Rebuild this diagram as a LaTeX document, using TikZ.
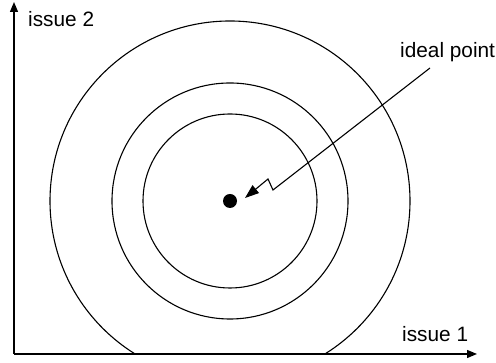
\documentclass[tikz,border=0pt]{standalone}
\usepackage{fontspec}
\setmainfont{Liberation Sans}
\usetikzlibrary{arrows.meta}
\begin{document}
\begin{tikzpicture}[x=1pt,y=1pt,
  axis/.style={line width=1.3pt,-{Triangle[length=10pt,width=8pt]}},
  ring/.style={line width=1.1pt},
  lbl/.style={font=\fontsize{20.8}{24}\selectfont,inner sep=0pt,anchor=base west},
  pointer/.style={line width=1.1pt,-{Triangle[length=14pt,width=10pt]}}]
\useasboundingbox (0,0) rectangle (496,363);
\coordinate (O) at (14,9);
\coordinate (ytip) at (14,361);
\coordinate (xtip) at (477,9);
\coordinate (c) at (230,162);
\draw[axis] (O) -- (ytip);
\draw[axis] (O) -- (xtip);
\draw[ring] (c) circle[radius=87];
\draw[ring] (c) circle[radius=118];
\begin{scope}
\clip (0,9) rectangle (496,363);
\draw[ring] (c) circle[radius=180];
\end{scope}
\node[circle,fill=black,inner sep=0pt,minimum size=14pt] (dot) at (c) {};
\node[lbl] (l2) at (28,336) {issue 2};
\node[lbl] (l1) at (402,21) {issue 1};
\node[lbl] (lip) at (400,305) {ideal point};
\coordinate (s) at (430,295);
\coordinate (z1) at (273,173);
\coordinate (z2) at (268,184);
\coordinate (tip) at (245,165);
\draw[pointer] (s) -- (z1) -- (z2) -- (tip);
\end{tikzpicture}
\end{document}
